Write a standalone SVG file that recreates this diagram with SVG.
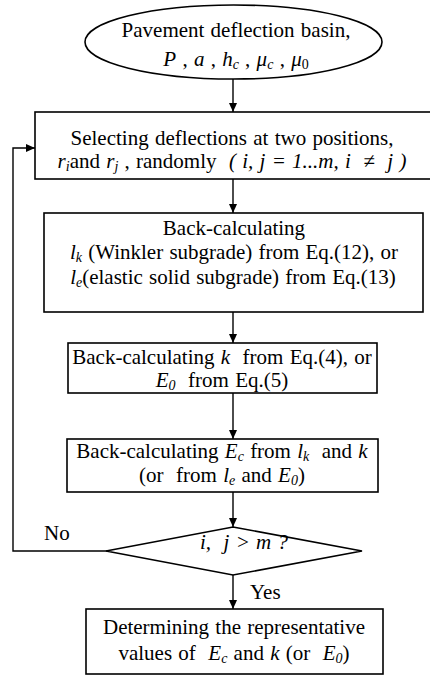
<svg xmlns="http://www.w3.org/2000/svg" width="430" height="675" viewBox="0 0 430 675">
<defs>
<marker id="ah" markerUnits="userSpaceOnUse" markerWidth="10" markerHeight="10" refX="9" refY="4" orient="auto">
<path d="M0,0 L9,4 L0,8 z" fill="#000"/>
</marker>
<style>
.s{fill:#fff;stroke:#000;stroke-width:1.6}
.t{font-family:"Liberation Serif","Times New Roman",serif;font-size:21px;word-spacing:1px;fill:#000;text-anchor:middle}
.l{font-family:"Liberation Serif","Times New Roman",serif;font-size:21px;fill:#000}
.i{font-style:italic}
.c{stroke:#000;stroke-width:1.4;fill:none;marker-end:url(#ah)}
</style>
</defs>
<rect width="430" height="675" fill="#fff"/>
<g id="connectors">
<line class="c" x1="233" y1="79" x2="233" y2="112"/>
<line class="c" x1="233" y1="179" x2="233" y2="213"/>
<line class="c" x1="233" y1="312" x2="233" y2="343"/>
<line class="c" x1="233" y1="393" x2="233" y2="439"/>
<line class="c" x1="233" y1="492" x2="233" y2="527"/>
<line class="c" x1="233" y1="575" x2="233" y2="609"/>
<path class="c" d="M107,551 H13 V148 H35"/>
<text class="l" x="44" y="540">No</text>
<text class="l" x="250" y="599">Yes</text>
</g>
<g id="start">
<ellipse class="s" cx="233.5" cy="42" rx="148.5" ry="37"/>
<text class="t" x="236" y="37">Pavement deflection basin,</text>
<text class="t" x="236" y="66"><tspan class="i">P</tspan> , <tspan class="i">a</tspan> , <tspan class="i">h</tspan><tspan class="i" font-size="14" dy="3">c</tspan><tspan dy="-3"> , </tspan><tspan class="i">μ</tspan><tspan class="i" font-size="14" dy="3">c</tspan><tspan dy="-3"> , </tspan><tspan class="i">μ</tspan><tspan font-size="14" dy="3">0</tspan></text>
</g>
<g id="select">
<rect class="s" x="35" y="112" width="400" height="67"/>
<text class="t" x="232" y="145">Selecting deflections at two positions,</text>
<text class="t" x="232" y="168"><tspan class="i">r</tspan><tspan class="i" font-size="14" dy="3">i</tspan><tspan dy="-3">and </tspan><tspan class="i">r</tspan><tspan class="i" font-size="14" dy="3">j</tspan><tspan dy="-3"> , randomly &#160;</tspan><tspan class="i">( i, j = 1...m, i &#160;≠ &#160;j )</tspan></text>
</g>
<g id="backcalc-l">
<rect class="s" x="44" y="213" width="379" height="99"/>
<text class="t" x="234" y="235">Back-calculating</text>
<text class="t" x="234" y="259"><tspan class="i">l</tspan><tspan class="i" font-size="14" dy="3">k</tspan><tspan dy="-3"> (Winkler subgrade) from Eq.(12), or</tspan></text>
<text class="t" x="233" y="284"><tspan class="i">l</tspan><tspan class="i" font-size="14" dy="3">e</tspan><tspan dy="-3">(elastic solid subgrade) from Eq.(13)</tspan></text>
</g>
<g id="backcalc-k">
<rect class="s" x="68" y="343" width="309" height="50"/>
<text class="t" x="222" y="364">Back-calculating <tspan class="i">k</tspan>&#160; from Eq.(4), or</text>
<text class="t" x="222" y="387"><tspan class="i">E</tspan><tspan class="i" font-size="14" dy="3">0</tspan><tspan dy="-3">&#160; from Eq.(5)</tspan></text>
</g>
<g id="backcalc-ec">
<rect class="s" x="67" y="439" width="311" height="53"/>
<text class="t" x="222" y="458">Back-calculating <tspan class="i">E</tspan><tspan class="i" font-size="14" dy="3">c</tspan><tspan dy="-3"> from </tspan><tspan class="i">l</tspan><tspan class="i" font-size="14" dy="3">k</tspan><tspan dy="-3">&#160; and </tspan><tspan class="i">k</tspan></text>
<text class="t" x="222" y="482">(or &#160;from <tspan class="i">l</tspan><tspan class="i" font-size="14" dy="3">e</tspan><tspan dy="-3"> and </tspan><tspan class="i">E</tspan><tspan class="i" font-size="14" dy="3">0</tspan><tspan dy="-3">)</tspan></text>
</g>
<g id="decision">
<polygon class="s" points="233,527 362,551 233,575 106,551"/>
<text class="t i" x="244" y="549">i, &#160;j &gt; m ?</text>
</g>
<g id="result">
<rect class="s" x="86" y="609" width="297" height="65"/>
<text class="t" x="234" y="634">Determining the representative</text>
<text class="t" x="234" y="660">values of &#160;<tspan class="i">E</tspan><tspan class="i" font-size="14" dy="3">c</tspan><tspan dy="-3"> and </tspan><tspan class="i">k</tspan> (or &#160;<tspan class="i">E</tspan><tspan class="i" font-size="14" dy="3">0</tspan><tspan dy="-3">)</tspan></text>
</g>
</svg>
